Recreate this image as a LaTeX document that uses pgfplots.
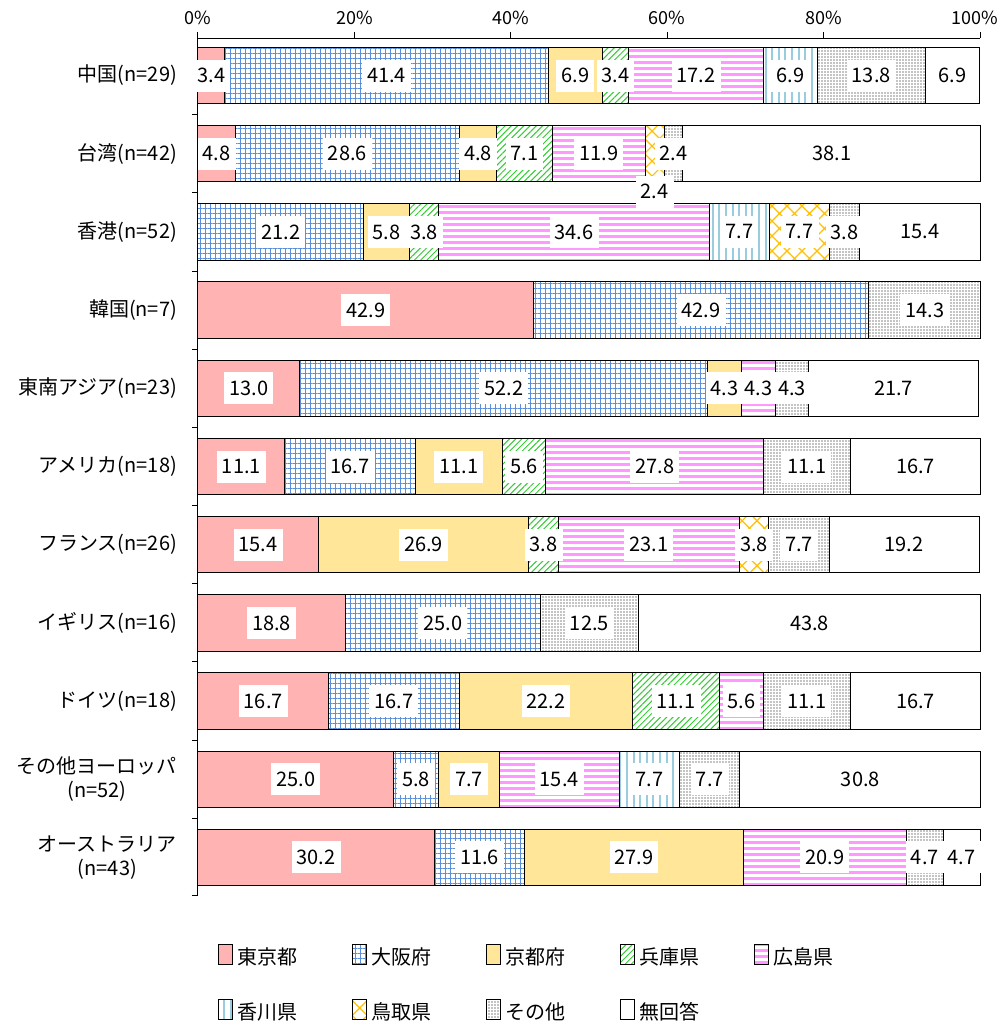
\documentclass[border=0pt]{standalone}
\usepackage{fontspec}
\setmainfont{Noto Sans CJK JP}
\usepackage{pgfplots}
\pgfplotsset{compat=1.18}
\usepackage{pgfplotstable}
\usetikzlibrary{patterns.meta}
\definecolor{cT}{HTML}{FFB3B3}
\definecolor{cO}{HTML}{5A8FDC}
\definecolor{cK}{HTML}{FFE699}
\definecolor{cH}{HTML}{33CC33}
\definecolor{cHi}{HTML}{FF99FF}
\definecolor{cKa}{HTML}{99CCDD}
\definecolor{cTo}{HTML}{FFC000}
\definecolor{cS}{HTML}{888888}
\newcommand\fs{\fontsize{10}{12}\selectfont}
\pgfplotstableread{
idx T O K H Hi Ka To S N
10 3.4 41.4 6.9 3.4 17.2 6.9 0 13.8 6.9
9 4.8 28.6 4.8 7.1 11.9 0 2.4 2.4 38.1
8 0 21.2 5.8 3.8 34.6 7.7 7.7 3.8 15.4
7 42.9 42.9 0 0 0 0 0 14.3 0
6 13.0 52.2 4.3 0 4.3 0 0 4.3 21.7
5 11.1 16.7 11.1 5.6 27.8 0 0 11.1 16.7
4 15.4 0 26.9 3.8 23.1 0 3.8 7.7 19.2
3 18.8 25.0 0 0 0 0 0 12.5 43.8
2 16.7 16.7 22.2 11.1 5.6 0 0 11.1 16.7
1 25.0 5.8 7.7 0 15.4 7.7 0 7.7 30.8
0 30.2 11.6 27.9 0 20.9 0 0 4.7 4.7
}\data
% label centres, computed from the data
\pgfplotstablecreatecol[create col/expr={\thisrow{T}/2}]{xT}\data
\pgfplotstablecreatecol[create col/expr={\thisrow{T}+\thisrow{O}/2}]{xO}\data
\pgfplotstablecreatecol[create col/expr={\thisrow{T}+\thisrow{O}+\thisrow{K}/2}]{xK}\data
\pgfplotstablecreatecol[create col/expr={\thisrow{T}+\thisrow{O}+\thisrow{K}+\thisrow{H}/2}]{xH}\data
\pgfplotstablecreatecol[create col/expr={\thisrow{T}+\thisrow{O}+\thisrow{K}+\thisrow{H}+\thisrow{Hi}/2}]{xHi}\data
\pgfplotstablecreatecol[create col/expr={\thisrow{T}+\thisrow{O}+\thisrow{K}+\thisrow{H}+\thisrow{Hi}+\thisrow{Ka}/2}]{xKa}\data
\pgfplotstablecreatecol[create col/expr={\thisrow{T}+\thisrow{O}+\thisrow{K}+\thisrow{H}+\thisrow{Hi}+\thisrow{Ka}+\thisrow{To}/2}]{xTo}\data
\pgfplotstablecreatecol[create col/expr={\thisrow{T}+\thisrow{O}+\thisrow{K}+\thisrow{H}+\thisrow{Hi}+\thisrow{Ka}+\thisrow{To}+\thisrow{S}/2}]{xS}\data
\pgfplotstablecreatecol[create col/expr={\thisrow{T}+\thisrow{O}+\thisrow{K}+\thisrow{H}+\thisrow{Hi}+\thisrow{Ka}+\thisrow{To}+\thisrow{S}+\thisrow{N}/2}]{xN}\data
\pgfplotsset{
  frame/.style={at={(0,0)}, anchor=north west,
    scale only axis, width=391pt, height=428.5pt,
    xmin=0, xmax=100, ymin=-0.48, ymax=10.48, clip=false},
  lab/.style={draw=none, mark=none, nodes near coords, point meta=explicit symbolic,
    restrict expr to domain={\thisrow{#1}}{0.01:200},
    nodes near coords style={anchor=center, fill=white, inner xsep=2.5pt, inner ysep=0pt,
      minimum height=16pt, font=\fs, text=black}},
}
\begin{document}
\begin{tikzpicture}
\begin{axis}[
  frame,
  xbar stacked, bar width=0.72,
  axis x line*=top, axis y line*=left,
  axis line style={-, line width=0.5pt},
  xtick={0,20,40,60,80,100},
  xticklabels={0\%,20\%,40\%,60\%,80\%,\hspace*{-5pt}100\%},
  tick align=outside, major tick length=3pt, minor tick length=3pt,
  tick style={black, line width=0.5pt},
  ytick={0,1,2,3,4,5,6,7,8,9,10},
  yticklabels={{オーストラリア\\(n=43)},{その他ヨーロッパ\\(n=52)},ドイツ(n=18),イギリス(n=16),フランス(n=26),アメリカ(n=18),東南アジア(n=23),韓国(n=7),香港(n=52),台湾(n=42),中国(n=29)},
  yticklabel style={align=center, xshift=-4pt, font=\fs},
  xticklabel style={font=\fontsize{9}{11}\selectfont},
  major y tick style={draw=none},
  minor ytick={-0.48,0.5,1.5,2.5,3.5,4.5,5.5,6.5,7.5,8.5,9.5},
  legend image code/.code={\draw[#1] (0pt,-3.5pt) rectangle (7pt,6.5pt);},
  legend columns=5,
  legend cell align=left,
  legend style={draw=none, fill=none, at={(0,0)}, anchor=north west,
    xshift=10pt, yshift=-24pt, inner sep=0pt, font=\fs,
    /tikz/every even column/.append style={column sep=25.5pt}, row sep=13.5pt},
  every axis plot/.append style={draw=black, line width=0.5pt},
]
\addplot[fill=cT] table[x=T,y=idx]{\data};
\addplot[fill=white, postaction={pattern={Hatch[angle=0,distance=2.5pt,line width=0.45pt]}, pattern color=cO}] table[x=O,y=idx]{\data};
\addplot[fill=cK] table[x=K,y=idx]{\data};
\addplot[fill=white, postaction={pattern={Lines[angle=45,distance=2.2pt,line width=0.5pt]}, pattern color=cH}] table[x=H,y=idx]{\data};
\addplot[fill=white, postaction={pattern={Lines[angle=0,distance=3pt,line width=1.5pt]}, pattern color=cHi}] table[x=Hi,y=idx]{\data};
\addplot[fill=white, postaction={pattern={Lines[angle=90,distance=3.3pt,line width=1pt]}, pattern color=cKa}] table[x=Ka,y=idx]{\data};
\addplot[fill=white, postaction={pattern={Hatch[angle=45,distance=5.3pt,line width=0.6pt]}, pattern color=cTo}] table[x=To,y=idx]{\data};
\addplot[fill=white, postaction={pattern={Dots[distance=1.5pt,radius=0.4pt]}, pattern color=cS}] table[x=S,y=idx]{\data};
\addplot[fill=white] table[x=N,y=idx]{\data};
\legend{東京都,大阪府,京都府,兵庫県,広島県,香川県,鳥取県,その他,無回答}
\end{axis}
\begin{axis}[frame, hide axis]
\addplot[lab=T] table[x=xT,y=idx,meta=T]{\data};
\addplot[lab=O] table[x=xO,y=idx,meta=O]{\data};
\addplot[lab=K] table[x=xK,y=idx,meta=K]{\data};
\addplot[lab=H] table[x=xH,y=idx,meta=H]{\data};
\addplot[lab=Hi] table[x=xHi,y=idx,meta=Hi]{\data};
\addplot[lab=Ka] table[x=xKa,y=idx,meta=Ka]{\data};
\addplot[lab=To] table[x=xTo,y expr={\thisrow{idx}==9 ? 8.514 : \thisrow{idx}},meta=To]{\data};
\addplot[lab=S] table[x=xS,y=idx,meta=S]{\data};
\addplot[lab=N] table[x=xN,y=idx,meta=N]{\data};
\end{axis}
\pgfresetboundingbox
\path[use as bounding box] (-99pt,19pt) rectangle (401pt,-492.5pt);
\end{tikzpicture}
\end{document}
